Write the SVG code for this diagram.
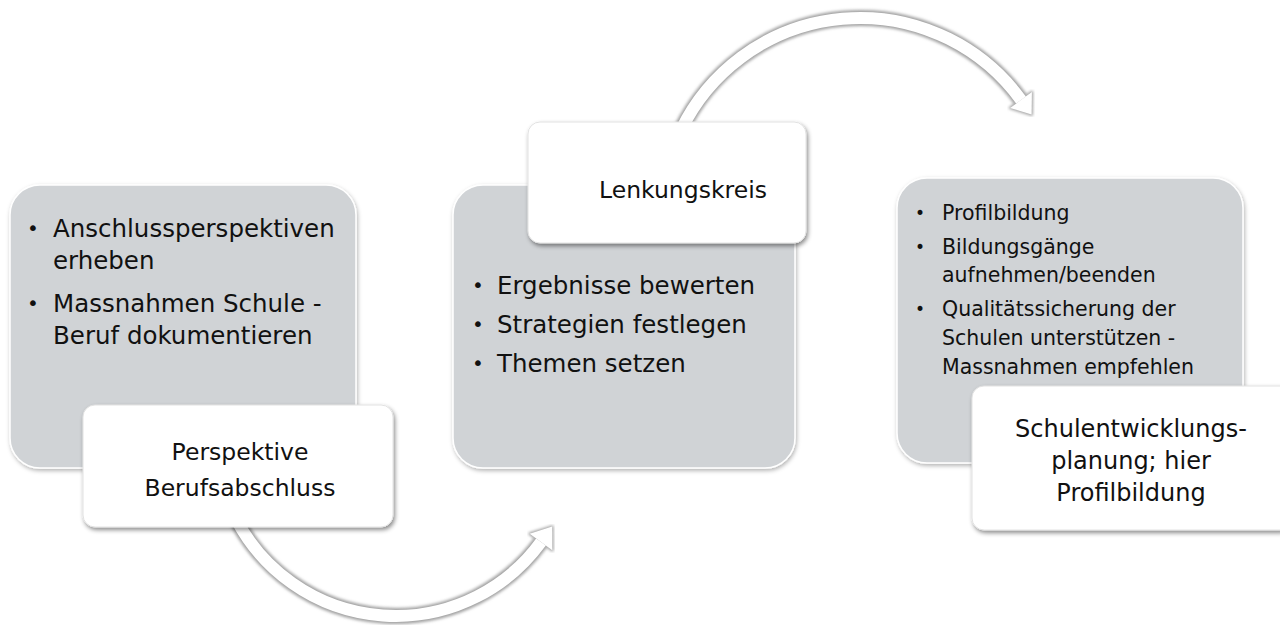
<svg xmlns="http://www.w3.org/2000/svg" width="1280" height="625" viewBox="0 0 1280 625">
  <defs>
    <filter id="shGray" x="-10%" y="-10%" width="120%" height="125%">
      <feDropShadow dx="1" dy="2" stdDeviation="2" flood-color="#000" flood-opacity="0.3"/>
    </filter>
    <filter id="shWhite" x="-10%" y="-10%" width="120%" height="130%">
      <feDropShadow dx="1.5" dy="2.5" stdDeviation="2" flood-color="#000" flood-opacity="0.45"/>
    </filter>
    <filter id="blur" x="-10%" y="-10%" width="120%" height="120%">
      <feGaussianBlur stdDeviation="1.4"/>
    </filter>
    <style>
      .gray { fill: #D0D3D6; stroke: #ffffff; stroke-width: 1.5; filter: url(#shGray); }
      .white { fill: #ffffff; stroke: #e2e2e2; stroke-width: 1; filter: url(#shWhite); }
      .t { font-family: "DejaVu Sans", "Liberation Sans", sans-serif; fill: #111111; }
      .b1 { font-size: 24.5px; }
      .b3 { font-size: 20.5px; }
      .bs1 { font-size: 20px; text-anchor: middle; }
      .bs3 { font-size: 17px; text-anchor: middle; }
      .lbl { font-size: 23.5px; text-anchor: middle; }
      .arrUnder { fill: none; stroke: #a0a0a0; stroke-width: 16; filter: url(#blur); }
      .arrHeadUnder { fill: #a0a0a0; stroke: #a0a0a0; stroke-width: 2.5; stroke-linejoin: round; filter: url(#blur); }
      .arrShaft { fill: none; stroke: #ffffff; stroke-width: 12; }
      .arrHead { fill: #ffffff; stroke: none; }
    </style>
  </defs>
  <rect width="1280" height="625" fill="#ffffff"/>

  <g id="connectors">
    <g id="arrow-bottom">
      <path class="arrUnder" d="M 236.6 520 A 179.8 179.8 0 0 0 541 542"/>
      <polygon class="arrHeadUnder" points="552.2,526.6 552.3,550.2 529.7,533.8"/>
      <path class="arrShaft" d="M 236.6 520 A 179.8 179.8 0 0 0 541 542"/>
      <polygon class="arrHead" points="552.2,526.6 552.3,550.2 529.7,533.8"/>
    </g>
    <g id="arrow-top">
      <path class="arrUnder" d="M 681 130 A 199 199 0 0 1 1021 100"/>
      <polygon class="arrHeadUnder" points="1031.6,114.6 1031.9,92.1 1010.1,107.9"/>
      <path class="arrShaft" d="M 681 130 A 199 199 0 0 1 1021 100"/>
      <polygon class="arrHead" points="1031.6,114.6 1031.9,92.1 1010.1,107.9"/>
    </g>
  </g>

  <g id="node1-body">
    <rect class="gray" x="10" y="185" width="346" height="283" rx="30" ry="30"/>
    <text class="t bs1" x="33" y="235">•</text>
    <text class="t b1" x="53" y="237">Anschlussperspektiven</text>
    <text class="t b1" x="53" y="269">erheben</text>
    <text class="t bs1" x="33" y="310">•</text>
    <text class="t b1" x="53" y="312">Massnahmen Schule -</text>
    <text class="t b1" x="53" y="344">Beruf dokumentieren</text>
  </g>
  <g id="node1-label">
    <rect class="white" x="83" y="405" width="310" height="122" rx="12" ry="12"/>
    <text class="t lbl" x="240" y="460">Perspektive</text>
    <text class="t lbl" x="240" y="496">Berufsabschluss</text>
  </g>

  <g id="node2-body">
    <rect class="gray" x="453" y="185" width="342" height="283" rx="30" ry="30"/>
    <text class="t bs1" x="478" y="292">•</text>
    <text class="t b1" x="497" y="294">Ergebnisse bewerten</text>
    <text class="t bs1" x="478" y="331">•</text>
    <text class="t b1" x="497" y="333">Strategien festlegen</text>
    <text class="t bs1" x="478" y="370">•</text>
    <text class="t b1" x="497" y="372">Themen setzen</text>
  </g>
  <g id="node2-label">
    <rect class="white" x="528" y="122" width="278" height="121" rx="12" ry="12"/>
    <text class="t lbl" x="683" y="198">Lenkungskreis</text>
  </g>

  <g id="node3-body">
    <rect class="gray" x="897" y="178" width="346" height="285" rx="30" ry="30"/>
    <text class="t bs3" x="920" y="219">•</text>
    <text class="t b3" x="942" y="220">Profilbildung</text>
    <text class="t bs3" x="920" y="253">•</text>
    <text class="t b3" x="942" y="254">Bildungsgänge</text>
    <text class="t b3" x="942" y="282">aufnehmen/beenden</text>
    <text class="t bs3" x="920" y="315">•</text>
    <text class="t b3" x="942" y="316">Qualitätssicherung der</text>
    <text class="t b3" x="942" y="345">Schulen unterstützen -</text>
    <text class="t b3" x="942" y="374">Massnahmen empfehlen</text>
  </g>
  <g id="node3-label">
    <rect class="white" x="972" y="386" width="320" height="144" rx="12" ry="12"/>
    <text class="t lbl" x="1131" y="437" style="font-size:24px">Schulentwicklungs-</text>
    <text class="t lbl" x="1131" y="469" style="font-size:24px">planung; hier</text>
    <text class="t lbl" x="1131" y="501" style="font-size:24px">Profilbildung</text>
  </g>
</svg>
